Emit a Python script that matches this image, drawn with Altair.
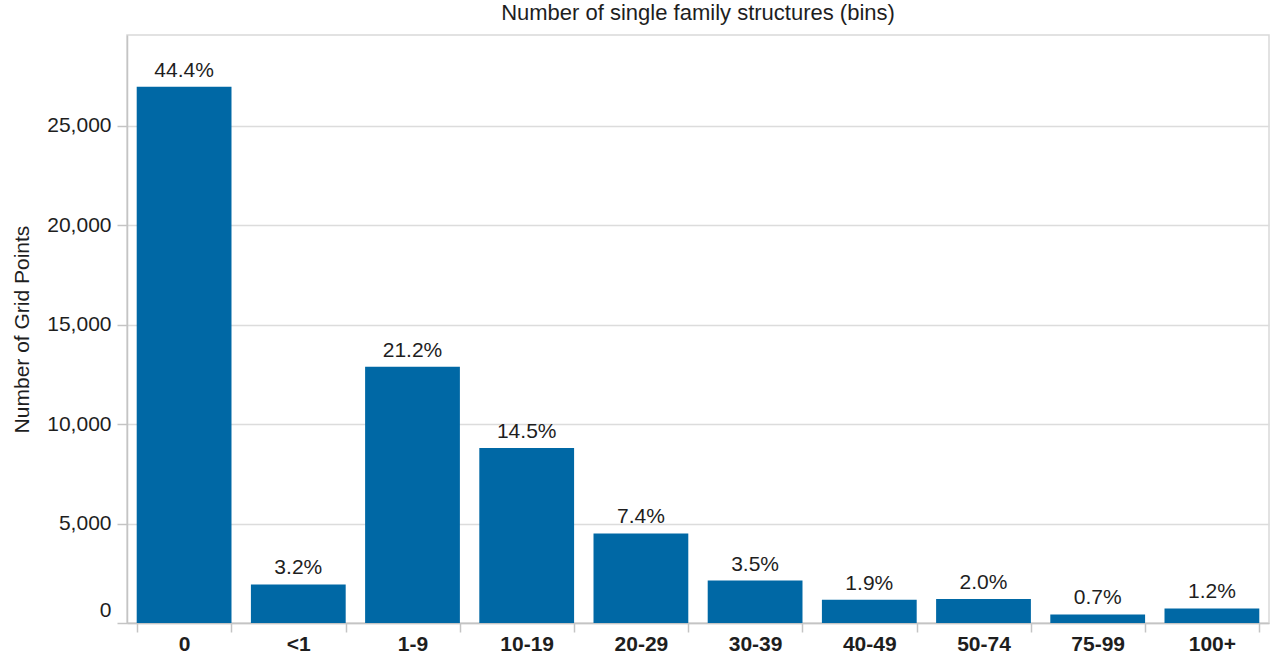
import altair as alt
import pandas as pd

# Bins of single family structure counts and the number of grid points in each
bins = ["0", "<1", "1-9", "10-19", "20-29", "30-39", "40-49", "50-74", "75-99", "100+"]
grid_points = [26950, 1940, 12880, 8800, 4500, 2130, 1170, 1200, 430, 730]
y_ticks = [0, 5000, 10000, 15000, 20000, 25000]

df = pd.DataFrame({"bin": bins, "count": grid_points})

FONT = "Liberation Sans"
BAR_COLOR = "#0068a5"
TEXT_COLOR = "#1e1e1e"
AXIS_GRAY = "#c4c4c4"

x = alt.X(
    "bin:N",
    sort=bins,
    scale=alt.Scale(paddingInner=0.17, paddingOuter=0.085),
    axis=alt.Axis(
        title=None,
        labelAngle=0,
        labelFontWeight="bold",
        labelFontSize=21,
        labelColor=TEXT_COLOR,
        labelPadding=1,
        tickBand="extent",
        tickSize=9,
        tickColor=AXIS_GRAY,
        tickWidth=1.5,
        domainColor=AXIS_GRAY,
        domainWidth=1.5,
        grid=False,
    ),
)

y = alt.Y(
    "count:Q",
    scale=alt.Scale(domain=[0, 29550], nice=False),
    axis=alt.Axis(
        title="Number of Grid Points",
        titleFontSize=21,
        titleFontWeight="normal",
        titleColor=TEXT_COLOR,
        titlePadding=14,
        values=y_ticks,
        format=",d",
        labelFontSize=21,
        labelColor=TEXT_COLOR,
        labelPadding=6,
        # the zero label sits a little above the baseline, clear of the x axis
        labelOffset={"condition": {"test": "datum.value === 0", "value": -13}, "value": 0},
        tickSize=10,
        tickColor=AXIS_GRAY,
        tickWidth=1.5,
        domainColor=AXIS_GRAY,
        domainWidth=1.5,
        gridColor="#dcdcdc",
        gridWidth=1.5,
    ),
)

base = alt.Chart(df).transform_joinaggregate(
    total="sum(count)"
).transform_calculate(
    share="datum.count / datum.total"
)

bars = base.mark_bar(color=BAR_COLOR).encode(x=x, y=y)

labels = base.mark_text(
    baseline="alphabetic",
    dy=-10,
    fontSize=21,
    font=FONT,
    color=TEXT_COLOR,
).encode(
    x=alt.X("bin:N", sort=bins),
    y=alt.Y("count:Q"),
    text=alt.Text("share:Q", format=".1%"),
)

chart = (
    alt.layer(bars, labels)
    .properties(
        width=1142,
        height=588,
        autosize=alt.AutoSizeParams(type="none"),
        padding={"left": 127, "top": 35, "right": 2, "bottom": 36},
        title=alt.Title(
            "Number of single family structures (bins)",
            fontSize=22,
            fontWeight="normal",
            color=TEXT_COLOR,
            font=FONT,
            anchor="middle",
            offset=10,
        ),
    )
    .configure(font=FONT, background="white")
    .configure_view(stroke="#d9d9d9", strokeWidth=1.5)
)

chart.save("out.html", embed_options={"renderer": "svg", "actions": False})
